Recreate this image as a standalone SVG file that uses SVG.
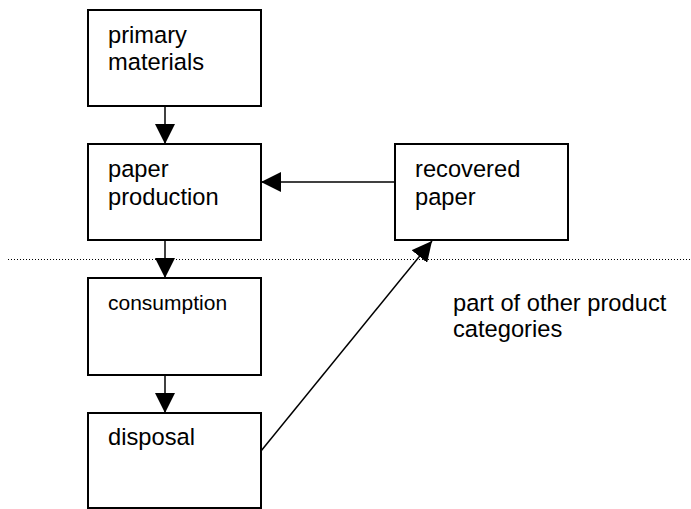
<svg xmlns="http://www.w3.org/2000/svg" width="691" height="509" viewBox="0 0 691 509">
  <style>
    .box { fill: #ffffff; stroke: #000000; stroke-width: 2; }
    .lbl { font-family: "Liberation Sans", Arial, sans-serif; font-size: 23.7px; fill: #000000; }
    .small { font-size: 21px; }
    .link { stroke: #000000; stroke-width: 1.5; fill: none; }
    .divider { stroke: #000000; stroke-width: 1; stroke-dasharray: 1 2; fill: none; }
  </style>
  <defs>
    <marker id="arrow" viewBox="0 0 20 20" refX="20" refY="10" markerWidth="20" markerHeight="20" markerUnits="userSpaceOnUse" orient="auto">
      <path d="M0,0 L20,10 L0,20 Z" fill="#000000"/>
    </marker>
  </defs>

  <rect width="691" height="509" fill="#ffffff"/>

  <!-- boundary between production and use -->
  <line class="divider" x1="8" y1="259.5" x2="691" y2="259.5"/>

  <g id="connectors">
    <line class="link" x1="165" y1="106" x2="165" y2="144" marker-end="url(#arrow)"/>
    <line class="link" x1="395" y1="182" x2="261" y2="182" marker-end="url(#arrow)"/>
    <line class="link" x1="165" y1="240" x2="165" y2="278" marker-end="url(#arrow)"/>
    <line class="link" x1="165" y1="375" x2="165" y2="413" marker-end="url(#arrow)"/>
    <line class="link" x1="261" y1="451" x2="432" y2="241" marker-end="url(#arrow)"/>
  </g>

  <g id="primary-materials">
    <rect class="box" x="88" y="10" width="173" height="96"/>
    <text class="lbl" x="108" y="43">primary</text>
    <text class="lbl" x="108" y="70">materials</text>
  </g>

  <g id="paper-production">
    <rect class="box" x="88" y="144" width="173" height="96"/>
    <text class="lbl" x="108" y="177">paper</text>
    <text class="lbl" x="108" y="205">production</text>
  </g>

  <g id="recovered-paper">
    <rect class="box" x="395" y="144" width="173" height="96"/>
    <text class="lbl" x="415" y="177">recovered</text>
    <text class="lbl" x="415" y="205">paper</text>
  </g>

  <g id="consumption">
    <rect class="box" x="88" y="278" width="173" height="97"/>
    <text class="lbl small" x="108" y="310">consumption</text>
  </g>

  <g id="disposal">
    <rect class="box" x="88" y="413" width="173" height="95"/>
    <text class="lbl" x="108" y="445">disposal</text>
  </g>

  <g id="note">
    <text class="lbl" x="453" y="311">part of other product</text>
    <text class="lbl" x="453" y="337">categories</text>
  </g>
</svg>
